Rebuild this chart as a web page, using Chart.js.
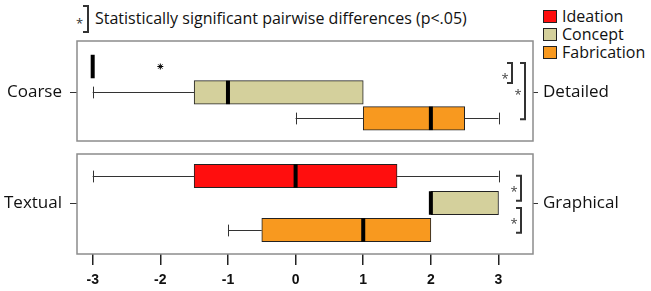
<!DOCTYPE html>
<html>
<head>
<meta charset="utf-8">
<script src="https://cdn.jsdelivr.net/npm/chart.js@4.4.1/dist/chart.umd.min.js"></script>
<style>
  html, body { margin: 0; padding: 0; background: #fff; }
  #wrap { position: relative; width: 651px; height: 291px; overflow: hidden;
          font-family: 'Open Sans', sans-serif; font-size: 16px; color: #111; }
  canvas { position: absolute; left: 0; }
  #topChart { top: 0; }
  #bottomChart { top: 147px; }
  #note { position: absolute; left: 95px; top: 7px; line-height: 22px; white-space: nowrap; }
  #noteStar { position: absolute; left: 76px; top: 15px; font-size: 13px; line-height: 16px; color: #333; }
  #noteBracket { position: absolute; left: 83px; top: 5px; width: 4px; height: 24px;
                 border: 2px solid #333; border-left: none; }
  #legend { position: absolute; left: 543px; top: 7px; }
  .item { display: flex; align-items: center; height: 18px; line-height: 18px; white-space: nowrap; }
  .swatch { width: 12px; height: 11px; border: 1px solid #222; margin-right: 5px; }
</style>
</head>
<body>
<div id="wrap">
  <span id="noteStar">*</span>
  <div id="noteBracket"></div>
  <div id="note">Statistically significant pairwise differences (p&lt;.05)</div>
  <div id="legend"></div>
  <canvas id="topChart" width="651" height="147"></canvas>
  <canvas id="bottomChart" width="651" height="144"></canvas>
</div>
<script>
const groups = ['Ideation', 'Concept', 'Fabrication'];
const groupColors = ['#ff0e0e', '#d4d09c', '#f8991f'];
const rows = [1, 2, 3];
const xTicks = [-3, -2, -1, 0, 1, 2, 3];

// Coarse vs Detailed
const coarseLabels = ['Coarse', 'Detailed'];
const coarseMin = [-3, -3, 0];
const coarseQ1 = [-3, -1.5, 1];
const coarseMedian = [-3, -1, 2];
const coarseQ3 = [-3, 1, 2.5];
const coarseMax = [-3, 1, 3];
const coarseOutliers = [[-2], [], []];
const coarseSig = [[1, 2], [1, 3]];

// Textual vs Graphical
const textualLabels = ['Textual', 'Graphical'];
const textualMin = [-3, 2, -1];
const textualQ1 = [-1.5, 2, -0.5];
const textualMedian = [0, 2, 1];
const textualQ3 = [1.5, 3, 2];
const textualMax = [3, 3, 2];
const textualOutliers = [[], [], []];
const textualSig = [[1, 2], [2, 3]];

const FONT = 'Open Sans';

document.getElementById('legend').innerHTML = groups.map((g, i) =>
  `<div class="item"><span class="swatch" style="background:${groupColors[i]}"></span>${g}</div>`).join('');

// whiskers, medians, panel frame and significance brackets
const boxPlotPlugin = {
  id: 'boxPlot',
  afterDatasetsDraw(chart, args, o) {
    const { ctx, chartArea } = chart;
    const xs = chart.scales.x, ys = chart.scales.y;
    const half = o.boxHeight / 2;
    ctx.save();
    ctx.strokeStyle = '#333';
    ctx.lineWidth = 1;
    o.min.forEach((mn, i) => {
      const py = Math.round(ys.getPixelForValue(rows[i])) + 0.5;
      [[mn, o.q1[i]], [o.q3[i], o.max[i]]].forEach(([a, b], k) => {
        if (a === b) return;
        ctx.beginPath();
        ctx.moveTo(xs.getPixelForValue(a), py);
        ctx.lineTo(xs.getPixelForValue(b), py);
        ctx.stroke();
        const sx = Math.round(xs.getPixelForValue(k === 0 ? a : b)) + 0.5;
        ctx.beginPath();
        ctx.moveTo(sx, py - half / 2);
        ctx.lineTo(sx, py + half / 2);
        ctx.stroke();
      });
    });
    ctx.fillStyle = '#000';
    o.median.forEach((m, i) => {
      const px = xs.getPixelForValue(m);
      const py = ys.getPixelForValue(rows[i]);
      ctx.fillRect(px - 2, py - half, 4, o.boxHeight);
    });
    // frame
    ctx.strokeStyle = '#8c8c8c';
    ctx.lineWidth = 1.5;
    ctx.strokeRect(chartArea.left, chartArea.top, chartArea.right - chartArea.left, chartArea.bottom - chartArea.top);
    // brackets
    ctx.strokeStyle = '#333';
    ctx.lineWidth = 2;
    ctx.fillStyle = '#444';
    ctx.font = '13px ' + FONT;
    ctx.textAlign = 'center';
    ctx.textBaseline = 'middle';
    o.sig.forEach(([a, b], k) => {
      const s = o.brackets[k];
      const bx = chartArea.right + s.dx;
      const y0 = ys.getPixelForValue(a) + s.top;
      const y1 = ys.getPixelForValue(b) + s.bottom;
      ctx.beginPath();
      ctx.moveTo(bx - 5, y0);
      ctx.lineTo(bx, y0);
      ctx.lineTo(bx, y1);
      ctx.lineTo(bx - 5, y1);
      ctx.stroke();
      ctx.fillText('*', bx - 7, (y0 + y1) / 2 + s.star + 3);
    });
    ctx.restore();
  }
};

function makeChart(id, p) {
  const sideAxis = (pos, label, width, tl, pad) => ({
    type: 'linear', position: pos, reverse: true, min: p.yMin, max: p.yMax, offset: false,
    afterBuildTicks: s => { s.ticks = [{ value: 2 }]; },
    afterFit: s => { s.width = width; s.paddingTop = 0; s.paddingBottom = 0; },
    ticks: { callback: () => label, font: { family: FONT, size: 17 }, color: '#111', padding: pad },
    grid: { drawOnChartArea: false, offset: false, tickLength: tl, color: '#333' },
    border: { display: false },
  });
  return new Chart(document.getElementById(id), {
    type: 'bar',
    data: {
      datasets: [
        {
          data: rows.map((r, i) => ({ x: [p.q1[i], p.q3[i]], y: r })),
          backgroundColor: groupColors,
          borderColor: '#222',
          borderWidth: 1,
          borderSkipped: false,
          barThickness: 23.5,
        },
        {
          type: 'scatter',
          data: p.outliers.flatMap((vals, i) => vals.map(v => ({ x: v, y: rows[i] }))),
          pointStyle: 'star',
          radius: 3,
          borderColor: '#000',
          borderWidth: 1,
        },
      ],
    },
    options: {
      indexAxis: 'y',
      responsive: false,
      devicePixelRatio: 1,
      animation: false,
      layout: { padding: p.padding },
      plugins: {
        legend: { display: false },
        tooltip: { enabled: false },
        boxPlot: {
          min: p.min, q1: p.q1, median: p.median, q3: p.q3, max: p.max,
          sig: p.sig, brackets: p.brackets, boxHeight: 23.5,
        },
      },
      scales: {
        x: {
          type: 'linear', min: -3.232, max: 3.51, display: p.showX, offset: false,
          afterBuildTicks: s => { s.ticks = xTicks.map(v => ({ value: v })); },
          afterFit: s => { if (p.showX) s.height = 37; s.paddingLeft = 0; s.paddingRight = 0; },
          ticks: { font: { family: 'Liberation Sans', size: 14, weight: 'bold' }, color: '#111',
                   padding: 7, maxRotation: 0, autoSkip: false },
          grid: { drawOnChartArea: false, tickLength: 11, color: '#222', lineWidth: 1.5 },
          border: { display: false },
        },
        y: sideAxis('left', p.labels[0], 77, 7, 8),
        y2: sideAxis('right', p.labels[1], 118, 5, 5),
      },
    },
    plugins: [boxPlotPlugin],
  });
}

makeChart('topChart', {
  labels: coarseLabels, min: coarseMin, q1: coarseQ1, median: coarseMedian, q3: coarseQ3,
  max: coarseMax, outliers: coarseOutliers, sig: coarseSig,
  brackets: [{ dx: -21, top: -3.5, bottom: -9.5, star: 3 }, { dx: -8, top: -3.5, bottom: 1, star: 1 }],
  yMin: 0.015, yMax: 3.875, showX: false,
  padding: { top: 41, bottom: 6, left: 0, right: 0 },
});

makeChart('bottomChart', {
  labels: textualLabels, min: textualMin, q1: textualQ1, median: textualMedian, q3: textualQ3,
  max: textualMax, outliers: textualOutliers, sig: textualSig,
  brackets: [{ dx: -12, top: -0.3, bottom: -2.3, star: 1 }, { dx: -12, top: 5, bottom: 2.7, star: 1 }],
  yMin: 0.185, yMax: 3.889, showX: true,
  padding: { top: 7, bottom: 0, left: 0, right: 0 },
});
</script>
</body>
</html>
